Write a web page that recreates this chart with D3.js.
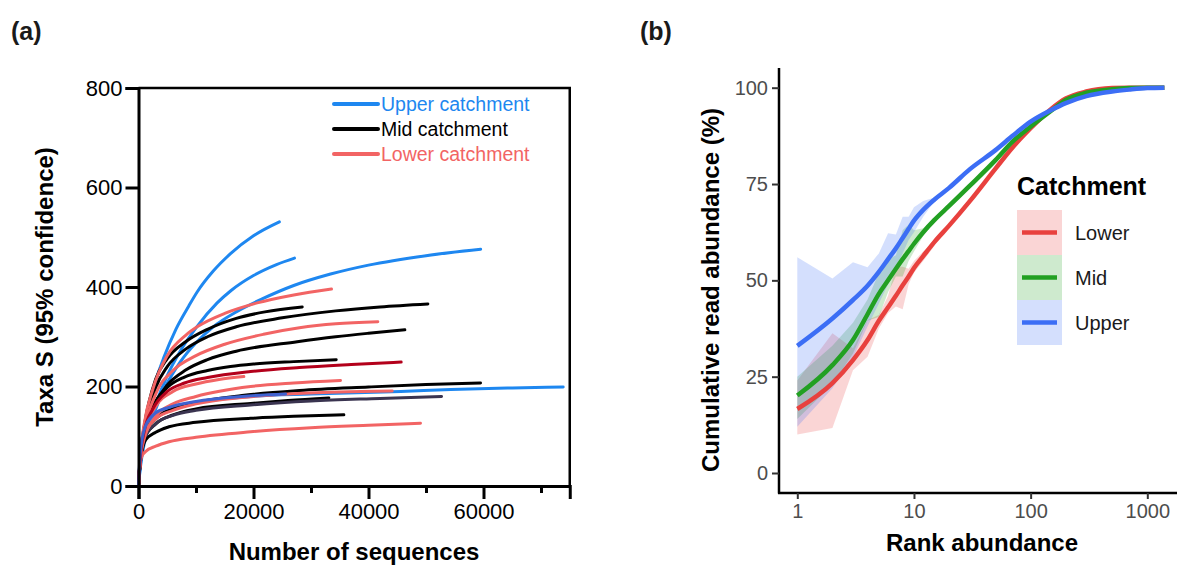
<!DOCTYPE html>
<html>
<head>
<meta charset="utf-8">
<script src="https://cdn.jsdelivr.net/npm/d3@7"></script>
<style>
  html, body { margin: 0; padding: 0; background: #fff; }
  svg { display: block; font-family: "Liberation Sans", Arial, Helvetica, sans-serif; }
</style>
</head>
<body>
<svg id="fig" width="1177" height="566"></svg>
<script>
// ---------- Panel (a): rarefaction curves, [sequences, taxa] ----------
const upperColor = "#1E87F0", midColor = "#000000", lowerColor = "#F26464";

const curveU1 = [[0,0],[300,55],[1000,115],[2000,170],[3000,212],[4400,258],[6500,315],[8750,362],[10200,390],[13000,432],[16000,467],[20000,503],[24500,531]];
const curveU2 = [[0,0],[300,40],[1000,95],[3000,165],[5000,222],[7300,272],[10000,318],[13680,368],[16000,392],[20000,423],[24000,445],[27130,458]];
const curveU3 = [[0,0],[300,35],[1000,85],[2500,140],[4700,200],[7300,250],[10000,288],[13000,320],[17000,350],[21500,376],[27000,403],[33400,426],[40000,444],[50000,463],[59500,476]];
const curveU4 = [[0,0],[300,60],[1200,115],[3000,140],[5300,153],[10000,167],[19500,180],[30000,185],[45600,190],[54300,194],[65000,197],[73860,199]];
const curveU5 = [[0,0],[300,65],[1200,120],[3000,147],[5300,158],[10000,170],[18000,180],[25570,185]];

const curveM1 = [[0,0],[300,60],[1000,120],[3000,215],[5000,256],[8200,290],[12000,315],[17000,337],[22000,350],[28470,360]];
const curveM2 = [[0,0],[300,55],[1000,110],[3000,198],[5000,240],[8200,275],[12000,300],[17000,320],[25000,338],[34300,352],[42000,360],[50320,366]];
const curveM3 = [[0,0],[300,50],[1000,100],[3000,168],[5000,203],[8200,233],[12000,254],[17000,271],[27600,290],[34300,300],[40000,307],[46320,314]];
const curveM4 = [[0,0],[300,55],[1000,110],[2500,160],[5000,198],[8000,219],[12000,232],[16000,240],[20000,245],[27000,250],[34380,254]];
const curveM5 = [[0,0],[300,50],[1000,100],[3000,135],[6000,155],[10000,168],[18000,182],[28000,192],[40000,199],[50000,204],[59480,207]];
const curveM6 = [[0,0],[300,50],[1000,95],[3000,125],[6000,143],[10000,155],[19500,166],[26000,172],[33100,177]];
const curveM7 = [[0,0],[300,45],[1200,92],[3000,108],[5300,119],[10000,128],[19500,136],[27000,140],[35710,143]];
const curveM8 = [[0,0],[300,50],[1000,95],[3000,125],[6000,142],[10000,152],[19500,163],[30000,171],[42000,176],[52700,180]];

const curveL1 = [[0,0],[300,60],[1000,125],[2500,195],[5000,262],[8200,303],[10200,320],[15000,347],[20640,368],[27000,384],[33560,396]];
const curveL2 = [[0,0],[300,55],[1000,110],[3000,185],[6000,232],[10000,262],[15000,285],[21740,305],[28000,318],[34300,326],[41620,330]];
const curveL3 = [[0,0],[300,55],[1000,105],[3000,160],[6000,190],[10000,205],[14000,214],[18320,220]];
const curveL4 = [[0,0],[300,50],[1000,95],[3000,140],[6000,165],[10000,180],[19500,200],[27000,207],[35130,212]];
const curveL5 = [[0,0],[300,50],[1000,100],[3000,135],[6000,152],[10000,165],[18000,178],[26000,185],[35000,189],[44120,191]];
const curveL6 = [[0,0],[200,40],[600,60],[1200,69],[3000,80],[5300,89],[10000,98],[19500,109],[30000,117],[40000,122],[49040,126]];
const curveL7 = [[0,0],[300,55],[1000,110],[2500,155],[5000,190],[8000,207],[12000,218],[19500,230],[28000,238],[37000,244],[45680,249]];

// drawing order, with the stroke of each sample
const rarefaction = [
  { pts: curveU1, color: upperColor }, { pts: curveU2, color: upperColor },
  { pts: curveU3, color: upperColor }, { pts: curveU4, color: upperColor },
  { pts: curveM1, color: midColor }, { pts: curveM2, color: midColor },
  { pts: curveM3, color: midColor }, { pts: curveM4, color: midColor },
  { pts: curveM5, color: midColor }, { pts: curveM6, color: midColor },
  { pts: curveM8, color: "#3A3450" }, { pts: curveM7, color: midColor },
  { pts: curveL1, color: lowerColor }, { pts: curveL2, color: lowerColor },
  { pts: curveL3, color: lowerColor }, { pts: curveL4, color: lowerColor },
  { pts: curveL5, color: lowerColor }, { pts: curveL6, color: lowerColor },
  { pts: curveL7, color: "#B3001B" }, { pts: curveU5, color: "#3F62D0" }
];

const xTicksA = [0, 20000, 40000, 60000];
const xMinorTicksA = [10000, 30000, 50000, 70000];
const yTicksA = [0, 200, 400, 600, 800];
const legendA = [
  { label: "Upper catchment", color: upperColor },
  { label: "Mid catchment", color: midColor },
  { label: "Lower catchment", color: lowerColor }
];

// ---------- Panel (b): cumulative read abundance by rank ----------
const ranks = [1,2,3,4,5,6,7,8,9,10,12,15,20,30,50,70,100,150,200,300,500,700,1000,1400];
const lowerCum = [16.6,23.3,29.3,34.5,39.5,43,46,48.7,51,53.2,56.3,60,64.2,70.5,79,84.5,89.5,94.5,97.2,99,99.9,100,100,100];
const midCum   = [20.1,28,34.5,41.2,46.5,50,53,55.5,57.6,59.5,62.5,65.7,69.3,74.5,81.2,86,89.9,94,96.8,98.7,99.6,99.9,100,100];
const upperCum = [33,40.1,44.9,48.6,52.2,55.5,58.3,61,63.4,65.5,68.3,71,74,78.8,83.8,87.5,91.2,94.2,96,97.8,99,99.5,99.9,100];

const bandRanks = [1,2,3,4,5,6,7,8,9,10,12,15];
const lowerLo = [10,11.7,26.7,30.2,37.5,41.5,43.2,42.5,49,52,55,59];
const lowerHi = [24,36.3,32.4,39.7,41,46,53.5,53.5,53,55,57.5,60.5];
const midLo   = [14,23,31,39.5,40.5,47,51,51,55,57.5,61.5,65.2];
const midHi   = [25,33,39,45,52,55.5,56.5,63,64.5,63,63.5,66.2];
const upperLo = [12,22,30,38,44,49,53,57,60.5,62.5,66.5,70.5];
const upperHi = [56,50.5,54.7,53.4,57,62.2,61.9,66.5,66.5,69,70.6,71.5];

const catchments = [
  { name: "Lower", color: "#E8413E", cum: lowerCum, lo: lowerLo, hi: lowerHi },
  { name: "Mid",   color: "#22A022", cum: midCum,   lo: midLo,   hi: midHi },
  { name: "Upper", color: "#3C6EF5", cum: upperCum, lo: upperLo, hi: upperHi }
];
const xTicksB = [1, 10, 100, 1000];
const yTicksB = [0, 25, 50, 75, 100];

const svg = d3.select("#fig");

// ================= Panel (a) =================
const xA = d3.scaleLinear().domain([0, 75000]).range([138.5, 569.75]);
const yA = d3.scaleLinear().domain([0, 800]).range([486, 88]);
const gA = svg.append("g");

const lineA = d3.line().x(d => xA(d[0])).y(d => yA(d[1])).curve(d3.curveMonotoneX);
gA.append("g").selectAll("path").data(rarefaction).join("path")
  .attr("d", d => lineA(d.pts))
  .attr("fill", "none").attr("stroke", d => d.color)
  .attr("stroke-width", 3).attr("stroke-linecap", "round");

// frame: top and right borders
gA.append("path")
  .attr("d", `M${xA(0)},${yA(800)}H${xA(75000)}V${yA(0)}`)
  .attr("fill", "none").attr("stroke", "#000").attr("stroke-width", 2.5);

const axLeftA = gA.append("g").attr("transform", `translate(${xA(0)},0)`)
  .call(d3.axisLeft(yA).tickValues(yTicksA).tickSize(13).tickPadding(3).tickFormat(d3.format("d")));
const axBotA = gA.append("g").attr("transform", `translate(0,${yA(0)})`)
  .call(d3.axisBottom(xA).tickValues(xTicksA).tickSize(13).tickPadding(4).tickFormat(d3.format("d")));
gA.append("g").attr("transform", `translate(0,${yA(0)})`)
  .call(d3.axisBottom(xA).tickValues(xMinorTicksA).tickSize(7).tickFormat(""))
  .select(".domain").remove();
gA.selectAll(".domain").attr("stroke", "#000").attr("stroke-width", 3);
gA.selectAll(".tick line").attr("stroke", "#000").attr("stroke-width", 3);
[axLeftA, axBotA].forEach(ax => ax.selectAll("text")
  .attr("fill", "#000").style("font-size", "22px")
  .style("font-family", "'Liberation Sans', Arial, sans-serif"));

gA.append("text").attr("x", 354).attr("y", 560).attr("text-anchor", "middle")
  .style("font-size", "24px").style("font-weight", "bold").text("Number of sequences");
gA.append("text").attr("transform", "translate(53,287) rotate(-90)").attr("text-anchor", "middle")
  .style("font-size", "24px").style("font-weight", "bold").text("Taxa S (95% confidence)");

const legA = gA.append("g").selectAll("g").data(legendA).join("g")
  .attr("transform", (d, i) => `translate(0,${[104, 129, 154][i]})`);
legA.append("line").attr("x1", 334).attr("x2", 378).attr("y1", 0).attr("y2", 0)
  .attr("stroke", d => d.color).attr("stroke-width", 4).attr("stroke-linecap", "round");
legA.append("text").attr("x", 381).attr("y", 7).attr("fill", d => d.color)
  .style("font-size", "19.5px").text(d => d.label);

svg.append("text").attr("x", 11).attr("y", 40).style("font-size", "25px").style("font-weight", "bold")
  .attr("fill", "#1a1a1a").text("(a)");

// ================= Panel (b) =================
const xB = d3.scaleLog().domain([1, 1000]).range([797.3, 1147.3]);
const yB = d3.scaleLinear().domain([0, 100]).range([473, 87.7]);
const gB = svg.append("g");

const area = d3.area().x((d, i) => xB(bandRanks[i])).y0(d => yB(d[0])).y1(d => yB(d[1]))
  .curve(d3.curveLinear);
gB.append("g").selectAll("path").data(catchments).join("path")
  .attr("d", c => area(c.lo.map((v, i) => [v, c.hi[i]])))
  .attr("fill", c => c.color).attr("fill-opacity", 0.22);

const lineB = d3.line().x((d, i) => xB(ranks[i])).y(d => yB(d)).curve(d3.curveMonotoneX);
gB.append("g").selectAll("path").data(catchments).join("path")
  .attr("d", c => lineB(c.cum))
  .attr("fill", "none").attr("stroke", c => c.color).attr("stroke-width", 4.5);

// axis lines
gB.append("line").attr("x1", 779).attr("x2", 779).attr("y1", 68).attr("y2", 493.5)
  .attr("stroke", "#000").attr("stroke-width", 2.5);
gB.append("line").attr("x1", 778).attr("x2", 1177).attr("y1", 493).attr("y2", 493)
  .attr("stroke", "#000").attr("stroke-width", 2.5);

const axLeftB = gB.append("g").attr("transform", "translate(779,0)")
  .call(d3.axisLeft(yB).tickValues(yTicksB).tickSize(7).tickPadding(4));
const axBotB = gB.append("g").attr("transform", "translate(0,493)")
  .call(d3.axisBottom(xB).tickValues(xTicksB).tickSize(6).tickPadding(5).tickFormat(d3.format("d")));
gB.selectAll(".domain").remove();
gB.selectAll(".tick line").attr("stroke", "#333").attr("stroke-width", 2);
[axLeftB, axBotB].forEach(ax => ax.selectAll("text")
  .attr("fill", "#4D4D4D").style("font-size", "20px")
  .style("font-family", "'Liberation Sans', Arial, sans-serif"));

gB.append("text").attr("x", 982).attr("y", 551).attr("text-anchor", "middle")
  .style("font-size", "24px").style("font-weight", "bold").text("Rank abundance");
gB.append("text").attr("transform", "translate(719,290) rotate(-90)").attr("text-anchor", "middle")
  .style("font-size", "24px").style("font-weight", "bold").text("Cumulative read abundance (%)");

// legend
gB.append("text").attr("x", 1017).attr("y", 195).style("font-size", "25px").style("font-weight", "bold")
  .text("Catchment");
const legB = gB.append("g").selectAll("g").data(catchments).join("g")
  .attr("transform", (d, i) => `translate(1017,${210 + i * 45})`);
legB.append("rect").attr("width", 45).attr("height", 45)
  .attr("fill", c => c.color).attr("fill-opacity", 0.22);
legB.append("line").attr("x1", 5).attr("x2", 40).attr("y1", 22.5).attr("y2", 22.5)
  .attr("stroke", c => c.color).attr("stroke-width", 4.5);
legB.append("text").attr("x", 58).attr("y", 30).attr("fill", "#1a1a1a")
  .style("font-size", "20px").text(c => c.name);

svg.append("text").attr("x", 640).attr("y", 40).style("font-size", "25px").style("font-weight", "bold")
  .attr("fill", "#1a1a1a").text("(b)");
</script>
</body>
</html>
